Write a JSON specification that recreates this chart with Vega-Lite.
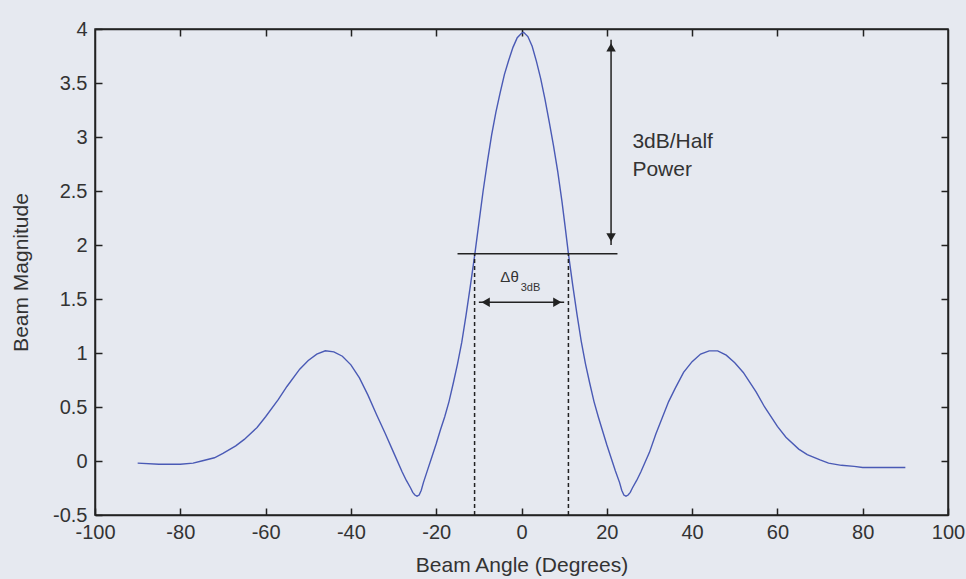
{
  "$schema": "https://vega.github.io/schema/vega-lite/v6.json",
  "autosize": "none",
  "width": 853,
  "height": 486,
  "padding": {"left": 95, "top": 29, "right": 18, "bottom": 64},
  "background": "#e6e9f0",
  "config": {
    "view": {"stroke": "#222222", "strokeWidth": 1.5},
    "font": "Liberation Sans",
    "axis": {
      "domainColor": "#222222", "domainWidth": 1.5,
      "tickColor": "#222222", "tickWidth": 1.5, "tickSize": -7,
      "labelColor": "#333333", "labelFontSize": 20, "labelFont": "Liberation Sans",
      "titleColor": "#333333", "titleFontSize": 21, "titleFont": "Liberation Sans", "titleFontWeight": "normal",
      "grid": false
    }
  },
  "datasets": {
    "beam": [
      {"angle": -90, "mag": -0.02}, {"angle": -85, "mag": -0.03}, {"angle": -80, "mag": -0.03},
      {"angle": -77, "mag": -0.02}, {"angle": -75, "mag": 0.0}, {"angle": -72, "mag": 0.03},
      {"angle": -70, "mag": 0.07}, {"angle": -67, "mag": 0.14}, {"angle": -65, "mag": 0.2},
      {"angle": -62, "mag": 0.31}, {"angle": -60, "mag": 0.41}, {"angle": -57, "mag": 0.57},
      {"angle": -55, "mag": 0.69}, {"angle": -52, "mag": 0.85}, {"angle": -50, "mag": 0.93},
      {"angle": -48, "mag": 0.99}, {"angle": -46, "mag": 1.02}, {"angle": -44, "mag": 1.01},
      {"angle": -42, "mag": 0.97}, {"angle": -40, "mag": 0.89}, {"angle": -38, "mag": 0.77},
      {"angle": -36, "mag": 0.61}, {"angle": -34, "mag": 0.43}, {"angle": -32, "mag": 0.26},
      {"angle": -30, "mag": 0.08}, {"angle": -28, "mag": -0.1}, {"angle": -27, "mag": -0.18},
      {"angle": -26, "mag": -0.25}, {"angle": -25.5, "mag": -0.29}, {"angle": -25, "mag": -0.315},
      {"angle": -24.5, "mag": -0.325}, {"angle": -24, "mag": -0.315}, {"angle": -23.5, "mag": -0.27},
      {"angle": -23, "mag": -0.2}, {"angle": -22, "mag": -0.08}, {"angle": -21, "mag": 0.04},
      {"angle": -20, "mag": 0.16}, {"angle": -19, "mag": 0.29}, {"angle": -18, "mag": 0.41},
      {"angle": -17, "mag": 0.55}, {"angle": -16, "mag": 0.72}, {"angle": -15, "mag": 0.9},
      {"angle": -14, "mag": 1.1}, {"angle": -13, "mag": 1.35}, {"angle": -12, "mag": 1.62},
      {"angle": -11, "mag": 1.9}, {"angle": -10, "mag": 2.2}, {"angle": -9, "mag": 2.5},
      {"angle": -8, "mag": 2.77}, {"angle": -7, "mag": 3.02}, {"angle": -6, "mag": 3.23},
      {"angle": -5, "mag": 3.41}, {"angle": -4, "mag": 3.58}, {"angle": -3, "mag": 3.71},
      {"angle": -2, "mag": 3.83}, {"angle": -1, "mag": 3.92}, {"angle": 0, "mag": 3.96},
      {"angle": 0.5, "mag": 3.97}, {"angle": 1.5, "mag": 3.93}, {"angle": 2.5, "mag": 3.84},
      {"angle": 3.5, "mag": 3.7}, {"angle": 4.5, "mag": 3.54}, {"angle": 5.5, "mag": 3.35},
      {"angle": 6.5, "mag": 3.14}, {"angle": 7.5, "mag": 2.92}, {"angle": 8.5, "mag": 2.68},
      {"angle": 9.5, "mag": 2.4}, {"angle": 10.2, "mag": 2.18},
      {"angle": 11, "mag": 1.92}, {"angle": 12, "mag": 1.63}, {"angle": 13, "mag": 1.36},
      {"angle": 14, "mag": 1.11}, {"angle": 15, "mag": 0.9}, {"angle": 16, "mag": 0.72},
      {"angle": 17, "mag": 0.55}, {"angle": 18, "mag": 0.41}, {"angle": 19, "mag": 0.28},
      {"angle": 20, "mag": 0.15}, {"angle": 21, "mag": 0.03}, {"angle": 22, "mag": -0.09},
      {"angle": 23, "mag": -0.2}, {"angle": 23.5, "mag": -0.27}, {"angle": 24, "mag": -0.315},
      {"angle": 24.5, "mag": -0.325}, {"angle": 25, "mag": -0.315}, {"angle": 25.5, "mag": -0.29},
      {"angle": 26, "mag": -0.25}, {"angle": 27, "mag": -0.18}, {"angle": 28, "mag": -0.1},
      {"angle": 30, "mag": 0.08}, {"angle": 31.5, "mag": 0.25}, {"angle": 33, "mag": 0.4},
      {"angle": 34.5, "mag": 0.55}, {"angle": 36, "mag": 0.67}, {"angle": 38, "mag": 0.82},
      {"angle": 40, "mag": 0.92}, {"angle": 42, "mag": 0.99}, {"angle": 44, "mag": 1.02},
      {"angle": 46, "mag": 1.02}, {"angle": 48, "mag": 0.98}, {"angle": 50, "mag": 0.91},
      {"angle": 52, "mag": 0.82}, {"angle": 55, "mag": 0.64}, {"angle": 57, "mag": 0.5},
      {"angle": 60, "mag": 0.32}, {"angle": 62, "mag": 0.22}, {"angle": 65, "mag": 0.11},
      {"angle": 67, "mag": 0.06}, {"angle": 70, "mag": 0.01}, {"angle": 72, "mag": -0.02},
      {"angle": 75, "mag": -0.04}, {"angle": 78, "mag": -0.05}, {"angle": 80, "mag": -0.06},
      {"angle": 85, "mag": -0.06}, {"angle": 90, "mag": -0.06}
    ],
    "hline": [{"angle": -15, "angle2": 22.5, "mag": 1.92}],
    "dashed": [{"angle": -11, "mag": -0.5, "mag2": 1.92}, {"angle": 11, "mag": -0.5, "mag2": 1.92}],
    "harrow": [{"angle": -10, "angle2": 10, "mag": 1.47}],
    "harrowHeads": [{"angle": -8.4, "mag": 1.47, "shape": "triangle-left"}, {"angle": 8.4, "mag": 1.47, "shape": "triangle-right"}],
    "varrow": [{"angle": 21, "mag": 2.0, "mag2": 3.9}],
    "varrowHeads": [{"angle": 21, "mag": 3.83, "shape": "triangle-up"}, {"angle": 21, "mag": 2.07, "shape": "triangle-down"}],
    "labels": [{"angle": 26, "mag": 2.95, "text": "3dB/Half"}, {"angle": 26, "mag": 2.69, "text": "Power"}],
    "delta": [{"angle": -2.8, "mag": 1.7, "text": "Δθ"}],
    "sub": [{"angle": -0.2, "mag": 1.6, "text": "3dB"}]
  },
  "layer": [
    {
      "layer": [
        {
          "data": {"name": "beam"},
          "mark": {"type": "line", "color": "#4a5ab5", "strokeWidth": 1.4},
          "encoding": {
            "x": {"field": "angle", "type": "quantitative",
                  "scale": {"domain": [-100, 100], "nice": false, "zero": false},
                  "axis": {"values": [-100, -80, -60, -40, -20, 0, 20, 40, 60, 80, 100], "labelExpr": "datum.value + ''", "title": "Beam Angle (Degrees)", "labelPadding": 14, "titlePadding": 12, "labelFlush": false}},
            "y": {"field": "mag", "type": "quantitative",
                  "scale": {"domain": [-0.5, 4], "nice": false, "zero": false},
                  "axis": {"values": [-0.5, 0, 0.5, 1, 1.5, 2, 2.5, 3, 3.5, 4], "labelExpr": "datum.value + ''", "title": "Beam Magnitude", "labelPadding": 15, "titlePadding": 21, "labelFlush": false}}
          }
        },
        {
          "data": {"name": "hline"},
          "mark": {"type": "rule", "color": "#222222", "strokeWidth": 1.5},
          "encoding": {"x": {"field": "angle", "type": "quantitative"}, "x2": {"field": "angle2"}, "y": {"field": "mag", "type": "quantitative"}}
        },
        {
          "data": {"name": "dashed"},
          "mark": {"type": "rule", "color": "#222222", "strokeWidth": 1.5, "strokeDash": [4, 3]},
          "encoding": {"x": {"field": "angle", "type": "quantitative"}, "y": {"field": "mag", "type": "quantitative"}, "y2": {"field": "mag2"}}
        },
        {
          "data": {"name": "harrow"},
          "mark": {"type": "rule", "color": "#222222", "strokeWidth": 1.5},
          "encoding": {"x": {"field": "angle", "type": "quantitative"}, "x2": {"field": "angle2"}, "y": {"field": "mag", "type": "quantitative"}}
        },
        {
          "data": {"name": "harrowHeads"},
          "mark": {"type": "point", "filled": true, "color": "#222222", "opacity": 1, "size": 90},
          "encoding": {"x": {"field": "angle", "type": "quantitative"}, "y": {"field": "mag", "type": "quantitative"}, "shape": {"field": "shape", "type": "nominal", "scale": null}}
        },
        {
          "data": {"name": "varrow"},
          "mark": {"type": "rule", "color": "#222222", "strokeWidth": 1.5},
          "encoding": {"x": {"field": "angle", "type": "quantitative"}, "y": {"field": "mag", "type": "quantitative"}, "y2": {"field": "mag2"}}
        },
        {
          "data": {"name": "varrowHeads"},
          "mark": {"type": "point", "filled": true, "color": "#222222", "opacity": 1, "size": 90},
          "encoding": {"x": {"field": "angle", "type": "quantitative"}, "y": {"field": "mag", "type": "quantitative"}, "shape": {"field": "shape", "type": "nominal", "scale": null}}
        },
        {
          "data": {"name": "labels"},
          "mark": {"type": "text", "align": "left", "baseline": "middle", "fontSize": 21, "color": "#333333", "font": "Liberation Sans"},
          "encoding": {"x": {"field": "angle", "type": "quantitative"}, "y": {"field": "mag", "type": "quantitative"}, "text": {"field": "text"}}
        },
        {
          "data": {"name": "delta"},
          "mark": {"type": "text", "align": "center", "baseline": "middle", "fontSize": 15, "color": "#333333", "font": "Liberation Sans"},
          "encoding": {"x": {"field": "angle", "type": "quantitative"}, "y": {"field": "mag", "type": "quantitative"}, "text": {"field": "text"}}
        },
        {
          "data": {"name": "sub"},
          "mark": {"type": "text", "align": "left", "baseline": "middle", "fontSize": 11, "color": "#333333", "font": "Liberation Sans"},
          "encoding": {"x": {"field": "angle", "type": "quantitative"}, "y": {"field": "mag", "type": "quantitative"}, "text": {"field": "text"}}
        }
      ]
    },
    {
      "data": {"name": "beam"},
      "mark": {"type": "line", "opacity": 0},
      "encoding": {
        "x": {"field": "angle", "type": "quantitative",
              "scale": {"domain": [-100, 100], "nice": false, "zero": false},
              "axis": {"orient": "top", "values": [-80, -60, -40, -20, 0, 20, 40, 60, 80], "labels": false, "title": null}},
        "y": {"field": "mag", "type": "quantitative",
              "scale": {"domain": [-0.5, 4], "nice": false, "zero": false},
              "axis": {"orient": "right", "values": [0, 0.5, 1, 1.5, 2, 2.5, 3, 3.5], "labels": false, "title": null}}
      }
    }
  ],
  "resolve": {"scale": {"x": "independent", "y": "independent"}}
}
